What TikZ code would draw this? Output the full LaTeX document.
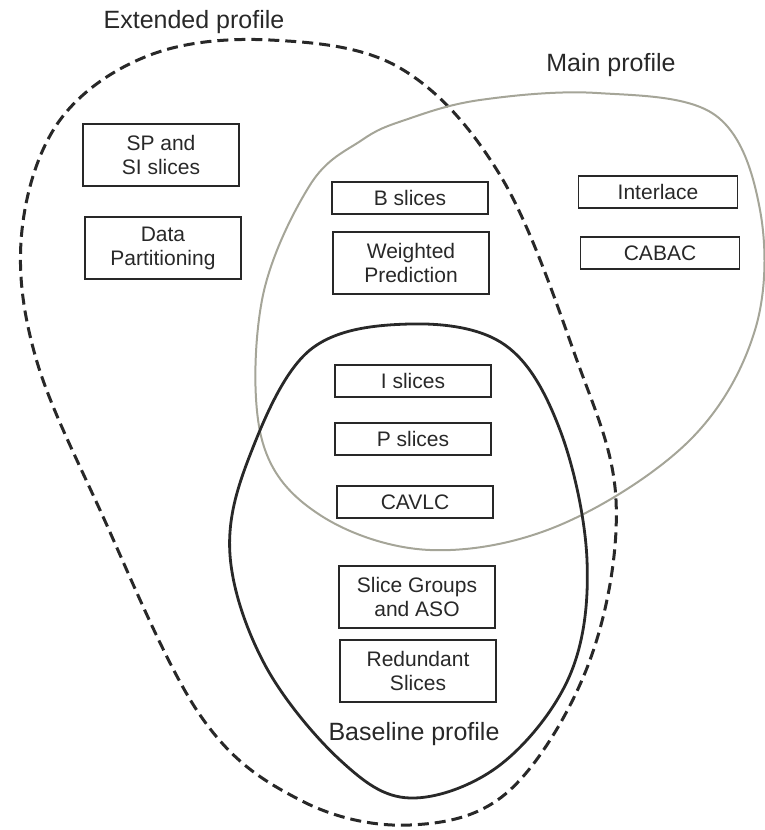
\documentclass[tikz,border=0pt]{standalone}
\usepackage{fontspec}
\setmainfont{Liberation Sans}
\usetikzlibrary{positioning}
\definecolor{mainline}{RGB}{165,165,152}
\definecolor{inkgray}{RGB}{40,40,40}

\begin{document}
\begin{tikzpicture}[x=1pt, y=-1pt, every node/.style={font=\fontsize{21}{24}\selectfont, text=inkgray},
    feature/.style={draw=inkgray, line width=1.5pt, minimum width=156pt, minimum height=32pt, align=center, inner sep=0pt},
    tall/.style={minimum height=62pt},
    profile/.style={font=\fontsize{25}{29}\selectfont}]
    \useasboundingbox (0,0) rectangle (764,830);
    % profile outlines
    \draw[inkgray, line width=3pt, dash pattern=on 11pt off 6pt] plot[smooth cycle, tension=0.6] coordinates {
        (270,40) (400,68) (500,175) (575,355) (616,500) (590,660) (510,790) (410,825) (300,800)
        (200,715) (100,510) (35,355) (22,230) (60,120) (150,55)};
    \draw[mainline, line width=2pt] plot[smooth cycle, tension=0.6] coordinates {
        (405,120) (480,100) (597,93) (715,115) (760,210) (755,330) (690,440) (560,525) (430,550)
        (320,515) (262,440) (262,300) (310,185) (362,140)};
    \draw[inkgray, line width=2.8pt] plot[smooth cycle, tension=0.6] coordinates {
        (410,324) (505,345) (560,430) (587,560) (570,675) (500,765) (410,798) (340,760) (265,665)
        (230,555) (250,455) (310,350)};
    % profile names
    \node[profile] (extended) at (194,22) {Extended profile};
    \node[profile] (main) at (611,65) {Main profile};
    \node[profile] (baseline) at (414,734) {Baseline profile};
    % extended only
    \node[feature, tall] (spsi) at (161,155) {SP and\\SI slices};
    \node[feature, tall] (datapart) at (163,248) {Data\\Partitioning};
    % extended and main
    \node[feature] (bslices) at (410,198) {B slices};
    \node[feature, tall] (weighted) at (411,263) {Weighted\\Prediction};
    % main only
    \node[feature, minimum width=159pt] (interlace) at (658,192) {Interlace};
    \node[feature, minimum width=159pt] (cabac) at (660,253) {CABAC};
    % all three profiles
    \node[feature] (islices) at (413,381) {I slices};
    \node[feature] (pslices) at (413,439) {P slices};
    \node[feature] (cavlc) at (415,502) {CAVLC};
    % extended and baseline
    \node[feature, tall] (slicegroups) at (417,597) {Slice Groups\\and ASO};
    \node[feature, tall] (redundant) at (418,671) {Redundant\\Slices};
\end{tikzpicture}
\end{document}
